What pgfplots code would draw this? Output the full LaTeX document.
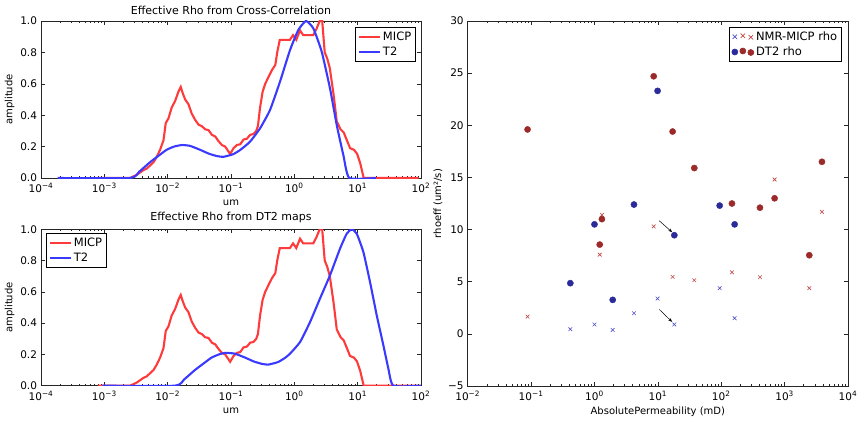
\documentclass[border=0pt]{standalone}
\usepackage{pgfplots}
\usepackage{pgfplotstable}
\pgfplotsset{compat=1.18}
\usepackage{fontspec}
\setmainfont{DejaVu Sans}
\usetikzlibrary{arrows.meta}

\definecolor{lred}{HTML}{FF3A3A}
\definecolor{lblue}{HTML}{3A3AFF}
\definecolor{dblue}{HTML}{2A2A9A}
\definecolor{dred}{HTML}{9C2A2A}
\definecolor{xblue}{HTML}{5050C8}
\definecolor{xred}{HTML}{C04646}

\pgfplotstableread{
x y
7.9e-4 0
2.55e-3 0
3.25e-3 0.02
4.14e-3 0.05
4.68e-3 0.06
5.97e-3 0.10
6.73e-3 0.135
7.60e-3 0.18
8.59e-3 0.24
9.33e-3 0.35
1.03e-2 0.38
1.16e-2 0.45
1.31e-2 0.49
1.48e-2 0.55
1.61e-2 0.58
1.73e-2 0.54
1.89e-2 0.50
2.13e-2 0.47
2.40e-2 0.41
2.72e-2 0.37
3.07e-2 0.34
3.47e-2 0.33
3.91e-2 0.31
4.42e-2 0.305
4.99e-2 0.275
5.62e-2 0.265
6.35e-2 0.235
7.18e-2 0.21
8.09e-2 0.20
9.70e-2 0.153
0.1096 0.19
0.124 0.21
0.140 0.215
0.158 0.245
0.178 0.25
0.201 0.275
0.227 0.28
0.250 0.30
0.266 0.33
0.288 0.45
0.316 0.55
0.347 0.60
0.398 0.65
0.447 0.69
0.501 0.72
0.537 0.80
0.589 0.88
0.851 0.88
0.955 0.91
1.072 0.88
1.230 0.94
1.380 0.91
1.995 0.91
2.239 0.95
2.512 1.0
2.754 1.0
3.020 0.80
3.311 0.76
3.631 0.70
4.169 0.53
4.677 0.36
5.370 0.31
6.026 0.29
6.761 0.24
7.586 0.19
8.710 0.18
9.772 0.155
10.96 0.095
12.45 0
92 0
}\micp

\pgfplotstableread{
x y
1.83e-4 0
2.54e-3 0
3.55e-3 0.04
5.25e-3 0.10
7.94e-3 0.155
9.64e-3 0.18
1.26e-2 0.20
1.67e-2 0.21
2.24e-2 0.205
3.24e-2 0.18
4.47e-2 0.155
5.94e-2 0.14
7.59e-2 0.135
0.1089 0.152
0.1413 0.18
0.1995 0.231
0.2871 0.316
0.4130 0.433
0.5943 0.614
0.8551 0.815
1.156 0.943
1.528 1.0
1.995 0.953
2.704 0.805
3.656 0.571
4.667 0.338
5.943 0.146
7.379 0
19.5 0
}\tcross

\pgfplotstableread{
x y
9.33e-4 0
1.30e-2 0
1.82e-2 0.04
2.69e-2 0.10
4.07e-2 0.155
4.94e-2 0.18
6.46e-2 0.20
8.13e-2 0.21
0.1148 0.205
0.1663 0.18
0.2291 0.155
0.3048 0.14
0.3890 0.135
0.5585 0.152
0.7244 0.18
0.8551 0.205
1.230 0.279
1.770 0.407
2.541 0.557
3.656 0.706
5.260 0.876
6.714 0.972
8.054 1.0
9.661 0.972
12.30 0.855
15.67 0.663
20.00 0.45
25.47 0.258
30.55 0.109
36.64 0
100 0
}\tdt

\pgfplotstableread{
x y
0.416 0.45
1.0 0.9
1.94 0.38
4.2 1.98
9.9 3.39
18.2 0.9
94.4 4.38
162.5 1.5
}\bluex

\pgfplotstableread{
x y
0.088 1.66
1.21 7.6
1.31 11.4
8.6 10.3
17.1 5.46
37.6 5.14
147.6 5.9
408 5.43
695 14.8
2450 4.38
3880 11.7
}\redx

\pgfplotstableread{
x y
0.416 4.86
1.0 10.5
1.94 3.26
4.2 12.4
9.9 23.3
18.2 9.46
94.4 12.3
162.5 10.5
}\bluedot

\pgfplotstableread{
x y
0.088 19.6
1.21 8.56
1.31 11.0
8.6 24.7
17.1 19.4
37.6 15.9
147.6 12.5
408 12.1
695 13.0
2450 7.54
3880 16.5
}\reddot

\begin{document}
\begin{tikzpicture}
% top left
\begin{axis}[scale only axis, at={(41pt,243pt)}, anchor=south west,
  width=380pt, height=157pt,
  xmode=log, xmin=1e-4, xmax=1e2, ymin=0, ymax=1,
  axis line style={black!85, line width=0.6pt},
  tick style={black!85, line width=0.5pt},
  major tick length=4pt, minor tick length=2pt, tick align=inside,
  tick label style={font=\fontsize{10.5}{12}\selectfont},
  xticklabel style={yshift=-2pt},
  yticklabel style={xshift=-0.5pt},
  xlabel style={font=\fontsize{10}{11}\selectfont, yshift=0pt},
  ylabel style={font=\fontsize{10}{11}\selectfont, yshift=-1pt},
  title style={font=\fontsize{11}{13}\selectfont, yshift=-3pt},
  xtick={1e-4,1e-3,1e-2,1e-1,1,1e1,1e2},
  xticklabels={10\textsuperscript{−4},10\textsuperscript{−3},10\textsuperscript{−2},10\textsuperscript{−1},10\textsuperscript{0},10\textsuperscript{1},10\textsuperscript{2}},
  minor xtick={2e-4,3e-4,4e-4,5e-4,6e-4,7e-4,8e-4,9e-4,
    2e-3,3e-3,4e-3,5e-3,6e-3,7e-3,8e-3,9e-3,
    2e-2,3e-2,4e-2,5e-2,6e-2,7e-2,8e-2,9e-2,
    0.2,0.3,0.4,0.5,0.6,0.7,0.8,0.9,
    2,3,4,5,6,7,8,9,
    20,30,40,50,60,70,80,90},
  ytick={0,0.2,0.4,0.6,0.8,1.0},
  yticklabels={0.0,0.2,0.4,0.6,0.8,1.0},
  xlabel={um}, ylabel={amplitude},
  title={Effective Rho from Cross-Correlation},
  legend image code/.code={\draw[#1] (0pt,0pt) -- (21pt,0pt);},
  legend style={font=\fontsize{11.5}{13}\selectfont, draw=black, line width=0.6pt,
    inner sep=2.5pt, row sep=1pt, at={(0.987,0.962)}, anchor=north east},
  legend cell align=left]
\addplot[lred, line width=2.1pt] table[x=x,y=y] {\micp};
\addlegendentry{MICP}
\addplot[lblue, line width=2.1pt, smooth, tension=0.3] table[x=x,y=y] {\tcross};
\addlegendentry{T2}
\end{axis}
% bottom left
\begin{axis}[scale only axis, at={(41pt,35.3pt)}, anchor=south west,
  width=380pt, height=156.4pt,
  xmode=log, xmin=1e-4, xmax=1e2, ymin=0, ymax=1,
  axis line style={black!85, line width=0.6pt},
  tick style={black!85, line width=0.5pt},
  major tick length=4pt, minor tick length=2pt, tick align=inside,
  tick label style={font=\fontsize{10.5}{12}\selectfont},
  xticklabel style={yshift=-2pt},
  yticklabel style={xshift=-0.5pt},
  xlabel style={font=\fontsize{10}{11}\selectfont, yshift=0pt},
  ylabel style={font=\fontsize{10}{11}\selectfont, yshift=-1pt},
  title style={font=\fontsize{11}{13}\selectfont, yshift=-3pt},
  xtick={1e-4,1e-3,1e-2,1e-1,1,1e1,1e2},
  xticklabels={10\textsuperscript{−4},10\textsuperscript{−3},10\textsuperscript{−2},10\textsuperscript{−1},10\textsuperscript{0},10\textsuperscript{1},10\textsuperscript{2}},
  minor xtick={2e-4,3e-4,4e-4,5e-4,6e-4,7e-4,8e-4,9e-4,
    2e-3,3e-3,4e-3,5e-3,6e-3,7e-3,8e-3,9e-3,
    2e-2,3e-2,4e-2,5e-2,6e-2,7e-2,8e-2,9e-2,
    0.2,0.3,0.4,0.5,0.6,0.7,0.8,0.9,
    2,3,4,5,6,7,8,9,
    20,30,40,50,60,70,80,90},
  ytick={0,0.2,0.4,0.6,0.8,1.0},
  yticklabels={0.0,0.2,0.4,0.6,0.8,1.0},
  xlabel={um}, ylabel={amplitude},
  title={Effective Rho from DT2 maps},
  legend image code/.code={\draw[#1] (0pt,0pt) -- (21pt,0pt);},
  legend style={font=\fontsize{11.5}{13}\selectfont, draw=black, line width=0.6pt,
    inner sep=2.5pt, row sep=1pt, at={(0.013,0.976)}, anchor=north west},
  legend cell align=left]
\addplot[lred, line width=2.1pt] table[x=x,y=y] {\micp};
\addlegendentry{MICP}
\addplot[lblue, line width=2.1pt, smooth, tension=0.3] table[x=x,y=y] {\tdt};
\addlegendentry{T2}
\end{axis}
% right
\begin{axis}[scale only axis, at={(467.7pt,35pt)}, anchor=south west,
  width=380.3pt, height=365pt,
  xmode=log, xmin=1e-2, xmax=1e4, ymin=-5, ymax=30,
  axis line style={black!85, line width=0.6pt},
  tick style={black!85, line width=0.5pt},
  major tick length=4pt, minor tick length=2pt, tick align=inside,
  tick label style={font=\fontsize{10.5}{12}\selectfont},
  xticklabel style={yshift=-2pt},
  yticklabel style={xshift=-0.5pt},
  xlabel style={font=\fontsize{10}{11}\selectfont, yshift=1pt},
  ylabel style={font=\fontsize{10}{11}\selectfont, yshift=-1pt},
  xtick={1e-2,1e-1,1,1e1,1e2,1e3,1e4},
  xticklabels={10\textsuperscript{−2},10\textsuperscript{−1},10\textsuperscript{0},10\textsuperscript{1},10\textsuperscript{2},10\textsuperscript{3},10\textsuperscript{4}},
  minor xtick={2e-2,3e-2,4e-2,5e-2,6e-2,7e-2,8e-2,9e-2,
    0.2,0.3,0.4,0.5,0.6,0.7,0.8,0.9,
    2,3,4,5,6,7,8,9,
    20,30,40,50,60,70,80,90,
    200,300,400,500,600,700,800,900,
    2000,3000,4000,5000,6000,7000,8000,9000},
  ytick={-5,0,5,10,15,20,25,30},
  yticklabels={−5,0,5,10,15,20,25,30},
  xlabel={AbsolutePermeability (mD)},
  ylabel={rhoeff (um²/s)},
  legend style={font=\fontsize{11.5}{13}\selectfont, draw=black, line width=0.6pt,
    inner sep=2.5pt, row sep=1pt, at={(0.984,0.984)}, anchor=north east},
  legend cell align=left]
\addlegendimage{legend image code/.code={
  \draw[xblue, line width=0.6pt] (0.5pt,-2.2pt) -- (4.9pt,2.2pt) (0.5pt,2.2pt) -- (4.9pt,-2.2pt);
  \draw[xred, line width=0.6pt] (8.5pt,-1.2pt) -- (12.9pt,3.2pt) (8.5pt,3.2pt) -- (12.9pt,-1.2pt);
  \draw[xred, line width=0.6pt] (16.5pt,-2.7pt) -- (20.9pt,1.7pt) (16.5pt,1.7pt) -- (20.9pt,-2.7pt);}}
\addlegendentry{NMR-MICP rho}
\addlegendimage{legend image code/.code={
  \fill[dblue] (2.7pt,0pt) circle (3pt);
  \fill[dred] (10.7pt,1pt) circle (3pt);
  \fill[dred] (18.7pt,-0.5pt) circle (3pt);}}
\addlegendentry{DT2 rho}
\addplot[only marks, mark=x, mark size=2.6pt, draw=xblue, mark options={line width=0.6pt}, forget plot] table[x=x,y=y] {\bluex};
\addplot[only marks, mark=x, mark size=2.6pt, draw=xred, mark options={line width=0.6pt}, forget plot] table[x=x,y=y] {\redx};
\addplot[only marks, mark=*, mark size=3.1pt, color=dblue, mark options={draw=none, fill=dblue}, forget plot] table[x=x,y=y] {\bluedot};
\addplot[only marks, mark=*, mark size=3.1pt, color=dred, mark options={draw=none, fill=dred}, forget plot] table[x=x,y=y] {\reddot};
\draw[-{Stealth[length=4pt,width=3pt]}, black, line width=0.5pt] (axis cs:10.5,10.85) -- (axis cs:16.8,9.75);
\draw[-{Stealth[length=4pt,width=3pt]}, black, line width=0.5pt] (axis cs:10.5,2.35) -- (axis cs:16.8,1.15);
\end{axis}
\pgfresetboundingbox
\path[use as bounding box] (0pt,0pt) rectangle (858pt,421pt);
\end{tikzpicture}
\end{document}
